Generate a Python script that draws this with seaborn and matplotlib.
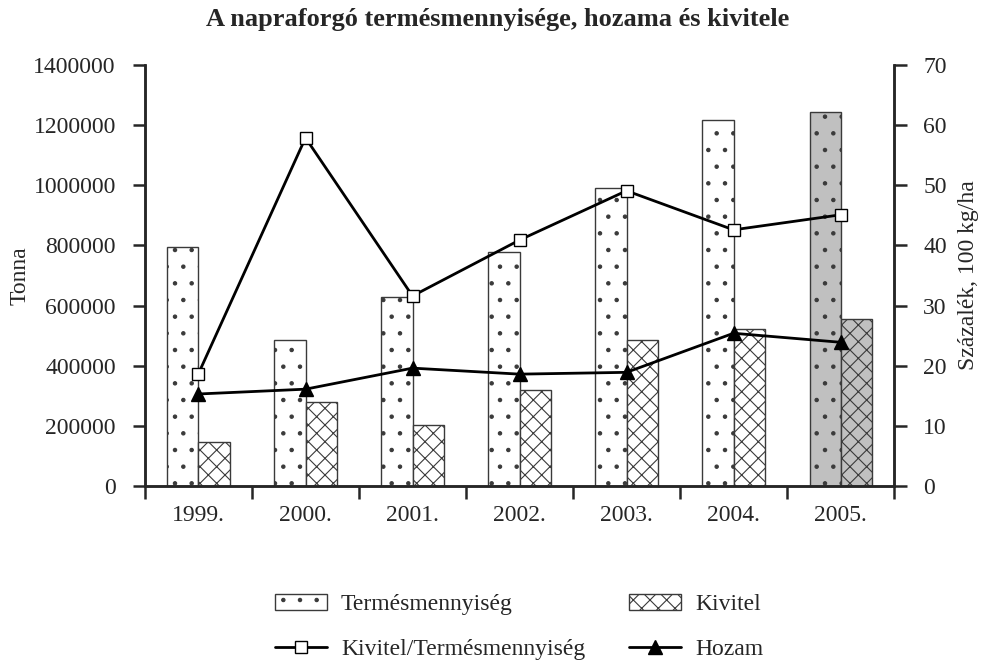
import pandas as pd
import matplotlib
matplotlib.use('Agg')
import matplotlib.pyplot as plt
import seaborn as sns
from matplotlib.patches import Patch
from matplotlib.lines import Line2D

# Data
years = ['1999.', '2000.', '2001.', '2002.', '2003.', '2004.', '2005.']
termes = [795000, 485000, 630000, 777000, 992000, 1219000, 1243000]
kivitel = [147000, 280000, 203000, 319000, 485000, 521000, 557000]
arany = [18.7, 57.9, 31.6, 40.9, 49.1, 42.6, 45.1]
hozam = [15.3, 16.1, 19.6, 18.6, 18.9, 25.4, 23.9]

sns.set_theme(style='ticks')
plt.rcParams['font.family'] = ['Liberation Serif', 'DejaVu Serif']
plt.rcParams['hatch.linewidth'] = 0.8
plt.rcParams['axes.linewidth'] = 1.8
fs = 17

bars = pd.DataFrame({
    'year': years * 2,
    'value': termes + kivitel,
    'series': ['Termésmennyiség'] * len(years) + ['Kivitel'] * len(years),
})

fig = plt.figure(figsize=(9.83, 6.67), dpi=100)
ax = fig.add_axes([0.1475, 0.2714, 0.762, 0.631])

sns.barplot(data=bars, x='year', y='value', hue='series',
            palette=['white', 'white'], saturation=1, width=0.58,
            edgecolor='#3a3a3a', linewidth=1, legend=False, ax=ax)

# hatches, last year is shaded grey
for cont, hatch in zip(ax.containers, ['.', 'xx']):
    for i, bar in enumerate(cont):
        bar.set_hatch(hatch)
        if i == len(years) - 1:
            bar.set_facecolor('#c0c0c0')

ax2 = ax.twinx()
sns.pointplot(x=years, y=arany, color='black', markers='s', linestyles='-',
              markersize=9, markerfacecolor='white', markeredgewidth=1,
              linewidth=2, errorbar=None, ax=ax2)
sns.pointplot(x=years, y=hozam, color='black', markers='^', linestyles='-',
              markersize=10, markeredgewidth=1, linewidth=2,
              errorbar=None, ax=ax2)

ax.set_ylim(0, 1400000)
ax.set_yticks(range(0, 1400001, 200000))
ax.set_yticklabels([str(v) for v in range(0, 1400001, 200000)], fontsize=fs)
ax2.set_ylim(0, 70)
ax2.set_yticks(range(0, 71, 10))
ax2.set_yticklabels([str(v) for v in range(0, 71, 10)], fontsize=fs)

for a in (ax, ax2):
    a.set_xlim(-0.5, len(years) - 0.5)
    a.spines['top'].set_visible(False)
ax.set_xticks(range(len(years)))
ax.set_xticklabels(years, fontsize=fs)
ax.set_xticks([i - 0.5 for i in range(len(years) + 1)], minor=True)
ax.tick_params(axis='x', which='major', length=0, pad=14)
ax.tick_params(axis='x', which='minor', length=9, width=1.8, direction='out')
ax.tick_params(axis='y', length=9, width=1.8, pad=12)
ax2.tick_params(axis='y', length=9, width=1.8, pad=12)

ax.set_xlabel('')
ax.set_ylabel('Tonna', fontsize=fs, labelpad=2)
ax2.set_ylabel('Százalék, 100 kg/ha', fontsize=fs, labelpad=8)
ax2.set_xlabel('')

fig.suptitle('A napraforgó termésmennyisége, hozama és kivitele',
             fontsize=19, fontweight='bold', x=0.506, y=0.988)

handles = [
    Patch(facecolor='white', edgecolor='#3a3a3a', hatch='.'),
    Line2D([], [], color='black', lw=2, marker='s', markersize=9,
           markerfacecolor='white', markeredgewidth=1),
    Patch(facecolor='white', edgecolor='#3a3a3a', hatch='xx'),
    Line2D([], [], color='black', lw=2, marker='^', markersize=10),
]
labels = ['Termésmennyiség', 'Kivitel/Termésmennyiség', 'Kivitel', 'Hozam']
fig.legend(handles, labels, ncol=2, loc='upper left',
           bbox_to_anchor=(0.27, 0.124), frameon=False, fontsize=fs,
           handlelength=2.2, handletextpad=0.6, columnspacing=1.85,
           labelspacing=1.0, borderaxespad=0)

fig.savefig('out.png', dpi=100)
